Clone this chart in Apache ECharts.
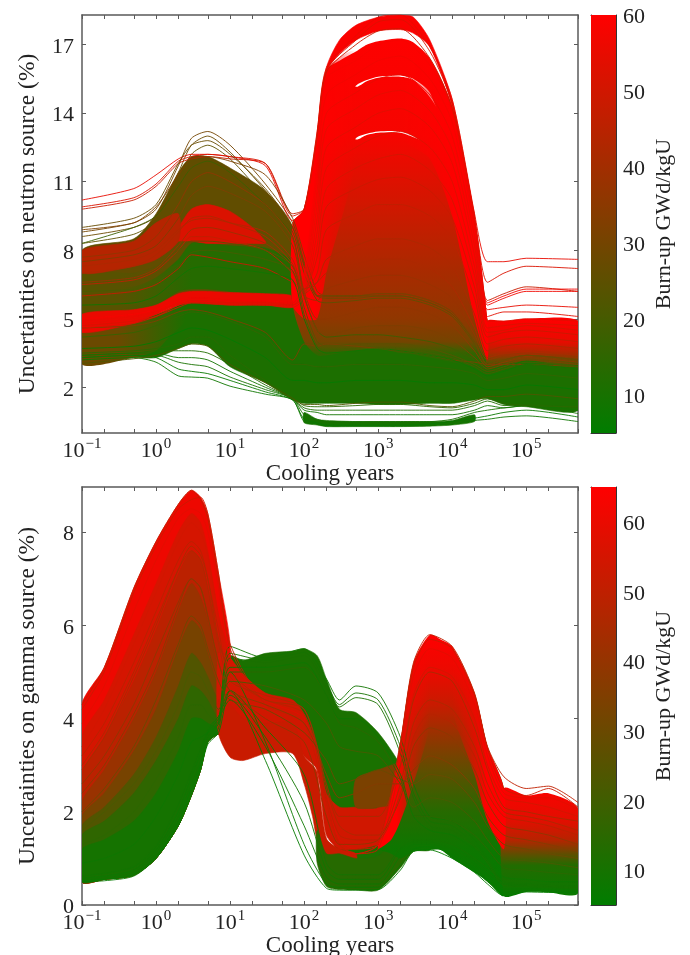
<!DOCTYPE html>
<html><head><meta charset="utf-8">
<style>html,body{margin:0;padding:0;background:#fff}#c{width:690px;height:955px}</style>
<script src="https://cdn.jsdelivr.net/npm/echarts@6/dist/echarts.min.js"></script>
</head><body><div id="c"></div>
<script>
// ---------- axis texts ----------
const xLabelValues=[0.1,1,10,100,1000,10000,100000];
const xTickValues=[0.1,0.2,0.5,1,2,5,10,20,50,100,200,500,1000,2000,5000,10000,20000,50000,100000,200000,500000];
const neutronTicks=[2,5,8,11,14,17];
const gammaTicks=[0,2,4,6,8];
const neutronBarTicks=[10,20,30,40,50,60];
const gammaBarTicks=[10,20,30,40,50,60];
const xName='Cooling years', barName='Burn-up GWd/kgU';
const neutronName='Uncertainties on neutron source (%)', gammaName='Uncertainties on gamma source (%)';

// ---------- neutron panel: cooling-time grids ----------
const XN=[0.1,0.5,1,2,3,5,10,30,70,100,150,200,500,1000,2000,5000,1e4,2e4,3e4,5e4,1e5,5e5];
const XU=[0.1,0.5,1,2,3,5,10,30,70];
const XH=[70,100,150,200,300,500,700,1000,2000,3000,5000,1e4,2e4,3e4];
const XT=[3e4,5e4,1e5,5e5];

// neutron dense regions: [low edge],[high edge]
const nOliveLo=[5.2,5.3,5.5,5.9,6.1,6.1,6.0,5.9,5.8], nOliveHi=[8.0,8.5,9.6,11.4,12.1,12.1,11.6,10.6,9.0];
const nMidLo=[5.3,5.4,5.6,6.2,6.3,6.3,6.2,6.1,6.0], nMidHi=[6.3,6.4,6.8,7.6,8.3,8.3,8.2,8.1,7.5];
const nMid0Lo=[5.2,5.3,5.5,5.9,6.1], nMid0Hi=[7,7,7.1,7.4,7.6];
const XC=[1.5,2,3,5,10,20,30];
const nCoreLo=[8.3,8.4,8.4,8.3,8.3,8.3,8.3], nCoreHi=[8.5,9,9.8,10,9.7,9,8.4];
const XB=[0.1,0.5,1,2];
const nBrickLo=[7.0,7.3,7.6,8.4], nBrickHi=[8.0,8.4,9.2,9.6];
const nGreenLo=[3.1,3.3,3.3,3.7,3.9,3.8,2.9,2.2,1.45,1.3,1.3,1.3,1.3,1.25,1.25,1.3,1.3,1.45,1.5,1.25,1.15,1.0];
const nGreenHi=[5,5,5.2,5.6,5.8,5.8,5.8,5.8,5.7,4.2,3.8,3.8,3.8,3.9,3.8,3.6,3.4,3.2,3.1,3.2,3.6,3.3];
const XL=[0.1,0.5,1,1.5,2.5];
const nBrownLo=[3.0,3.3,3.6,4.2,4.9], nBrownHi=[5.2,5.2,5.2,5.3,5.4];
const nBeltLo=[4.4,4.8,5.2,5.6,5.7,5.65,5.6,5.6,5.5], nBeltHi=[5.2,5.4,5.6,6.1,6.2,6.2,6.15,6.1,6.0];
const nHumpLo=[5.6,6,8,11,14.2,15.2,15.45,15.6,15.65,15.5,14.9,12,7,4];
const nHumpHi=[9.2,9.8,13,15.9,16.3,16.7,17,17.15,17.27,17.1,16.4,14.3,9.5,4.9];
const nHump2Lo=[5.6,5,6,9,11.5,12.9,13.1,13.2,13.2,13,12.4,10,6,3.8];
const nHump2Hi=[9,9.6,12.8,15.7,15.9,15.16,15.4,15.55,15.6,15.45,14.7,13,8,4.9];
const nHump3Lo=[5.6,4.0,3.4,3.4,3.5,3.6,3.65,3.7,3.5,3.45,3.3,3.1,2.9,2.8];
const nHump3Hi=[8,8,10,12.5,13.4,12.85,13.05,13.15,13.15,12.95,12.6,11,7,4.9];
const XTop=[150,200,300,500,1000,2000,3000,5000,1e4,2e4];
const nTopLo=[12.9,15.8,16.6,17.2,17.6,17.66,17.5,16.9,14.3,9.4], nTopHi=[13.2,16.0,17.2,17.85,18.2,18.3,18.2,17.2,14.6,9.6];
const XS=[70,100,150,200,500];
const nSpikeLo=[5.6,5,5,7,12], nSpikeHi=[9.2,9.8,13.0,15.9,16.7];
const XE=[2000,5000,1e4,2e4,3e4];
const nEdgeLo=[13,12,9.5,5,3.2], nEdgeHi=[17.27,16.4,14.3,9.5,4.9];
const nTailLo=[2.8,3.0,3.2,3.0], nTailHi=[4.9,4.9,5.0,4.9];
const XLow=[100,150,200,500,1000,2000,5000,1e4,2e4];
const nLowLo=[0.45,0.35,0.28,0.28,0.28,0.28,0.3,0.35,0.5], nLowHi=[0.9,0.6,0.55,0.5,0.5,0.5,0.5,0.55,0.8];

// neutron individual curves on XN
const nb1=[8.8,9.2,9.8,11.7,12.9,13.2,12.6,10.9,9.2,7.5,6,6,6,6.1,6.1,5.8,5.3,4,3,3.2,3.4,3.2];
const nb2=[8.6,9,9.5,11.4,12.6,13,12.3,10.6,9,7.3,6,5.9,5.9,6,6,5.7,5.2,4,3,3.2,3.4,3.2];
const nb3=[8.3,8.7,9.3,11,12.2,12.6,12,10.3,8.8,7,5.8,5.7,5.8,5.9,5.9,5.6,5.1,3.9,2.9,3.1,3.3,3.1];
const nb4=[9.8,10.2,10.8,11.8,12,12.1,12,11.8,9.6,9.8,13,15.8,17,17.6,17.7,16.4,14.2,9.3,5.8,6.1,6.4,6.2];
const nb5=[10.2,10.7,11.3,12,12.2,12.2,12.1,11.7,9.3,9.8,13.2,16,17.4,18.2,18.3,16.9,14.6,9.6,7.5,7.5,7.65,7.6];
const nb6=[9.9,10.3,10.9,11.9,12.1,12.2,12.1,11.8,9.5,9.8,13.1,15.9,17.2,18,18.1,16.7,14.4,9.5,6.6,7,7.3,7.2];
const nb7=[8.9,9.2,9.9,11.3,12,12.1,11.9,11.3,9.4,7.8,6.2,6,6,6.1,6.1,5.8,5.3,4,3,3.2,3.4,3.2];
const nb8=[8.3,9,9.5,10.8,11.6,11.9,11.4,10,8.6,6,4.5,4.2,4.3,4.3,4.2,4,3.7,3.2,2.7,2.8,3,2.8];
const nb9=[9,9.4,10,11.8,12.6,12.8,12.2,10.7,9,7.4,6,6,6,6,6,5.7,5.2,4,3,3.2,3.4,3.2];
const nf1=[3.2,3.3,3.1,2.5,2.45,2.4,2.05,1.7,1.45,0.5,0.4,0.3,0.3,0.3,0.3,0.35,0.4,0.55,0.6,0.7,0.75,0.5];
const nf2=[3.3,3.4,3.3,2.8,2.7,2.6,2.3,1.8,1.45,0.6,0.45,0.35,0.35,0.35,0.35,0.4,0.5,0.65,0.75,0.9,1,0.7];
const nf3=[3.3,3.4,3.4,3.1,3,2.9,2.45,1.9,1.5,0.8,0.6,0.5,0.5,0.5,0.5,0.5,0.6,0.9,1,1.1,1.2,0.85];
const nf4=[3.4,3.5,3.5,3.3,3.3,3.2,2.7,2,1.5,1,0.9,0.8,0.8,0.8,0.8,0.8,0.8,1,1.2,1.1,1.2,1];
const nf5=[3.4,3.5,3.6,3.6,3.6,3.5,3,2.1,1.5,1.1,1,1,1,1,1,1,1,1.2,1.4,1.2,1.25,1.1];
const nf6=[3.5,3.6,3.7,3.9,4.2,4.2,3.4,2.3,1.55,1.2,1.15,1.15,1.2,1.25,1.25,1.15,1.1,1.3,1.5,1.3,1.2,1.15];
const nf7=[3.05,3.25,3.4,3.7,3.9,3.8,3,2.2,1.5,1.25,1.25,1.2,1.3,1.35,1.35,1.2,1.15,1.4,1.6,1.6,1.7,1.5];
const nf8=[4.6,4.7,4.9,5.3,5.4,5.3,5,4.4,3.2,3.9,3.8,3.9,3.8,3.7,3.6,3.4,3.2,3.1,3,3,3,2.9];
const nh1=[5,5.2,5.4,5.8,5.9,5.9,5.8,5.8,5.7,7,11.8,15.5,16.3,17,17.2,16.1,14.1,9.3,5.7,6,6.3,6.3];
const nh2=[5,5.1,5.3,5.8,5.9,5.9,5.8,5.8,5.7,6.8,11.2,14.8,15.7,16.3,16.5,15.5,13.6,9,5.6,5.9,6.2,6.2];
const nh3=[4.9,5.1,5.3,5.7,5.9,5.9,5.8,5.7,5.7,6.6,10.6,14,14.9,15.5,15.7,14.8,13,8.6,5.4,5.5,5.6,5.5];
const nh4=[4.8,5,5.2,5.6,5.8,5.8,5.7,5.7,5.6,6.4,10,13.3,14.2,14.8,15,14.1,12.4,8.2,5.1,5.3,5.3,5.1];
const nh5=[4.7,4.9,5.2,5.6,5.8,5.8,5.7,5.7,5.6,6.2,9.4,12.5,13.4,14,14.2,13.4,11.8,7.8,4.9,4.9,5,4.9];
const nh6=[4.7,4.9,5.1,5.6,5.7,5.7,5.7,5.6,5.6,6,8.8,11.6,12.5,13,13.2,12.5,11,7.3,4.6,4.7,4.8,4.7];
const nh7=[4.6,4.8,5.1,5.5,5.7,5.7,5.6,5.6,5.5,5.9,8.2,10.7,11.6,12,12.2,11.5,10.2,6.9,4.4,4.5,4.7,4.5];
const nh8=[6,6.2,6.5,7.2,7.8,7.7,7.5,7.2,6.6,6.3,7.7,9.9,10.7,11.1,11.2,10.6,9.4,6.4,4.2,4.4,4.5,4.3];
const nh9=[6.5,6.7,7.1,8,8.6,8.6,8.4,8,7,6.2,7,8.9,9.6,10,10,9.5,8.5,5.9,3.9,4.1,4.2,4];
const nh10=[7,7.3,7.8,8.8,9.4,9.5,9.2,8.6,7.4,6.1,6.6,7.6,8.2,8.5,8.5,8.1,7.3,5.2,3.6,3.8,3.9,3.7];
const ne1=[5.6,5.7,6,6.8,7.2,7.3,7.2,7,6.7,5,3.7,3.5,3.6,3.7,3.6,3.4,3.2,2.8,2.5,2.7,3,2.8];
const ne2=[6.2,6.3,6.6,7.3,7.9,8,7.9,7.6,7.1,5.2,3.8,3.6,3.7,3.7,3.7,3.5,3.3,2.9,2.6,2.8,3.1,2.9];
const ne3=[6.8,7,7.3,8,8.4,8.4,8.3,8,7.3,5.5,4,3.8,3.9,3.9,3.9,3.7,3.4,3,2.7,2.9,3.2,3];
const ne4=[7.5,7.8,8.2,9.4,10.4,10.8,10.5,9.7,8.2,6,4.5,4.3,4.6,4.7,4.7,4.5,4.1,3.3,2.8,3,3.2,3];
const ne5=[7.7,8,8.6,10,11,11.4,11,10,8.5,6.2,5,5,5.3,5.5,5.5,5.2,4.7,3.6,2.9,3.1,3.3,3.1];
const ne6=[4.2,4.4,4.7,5.1,5.3,5.2,4.9,4.2,3,3,2.9,2.9,3,3,3,2.9,2.8,2.6,2.3,2.4,2.6,2.4];
const ne7=[3.7,3.8,4,4.4,4.6,4.5,4.1,3.3,2.3,2.3,2.2,2.2,2.3,2.3,2.3,2.2,2.2,2.1,1.9,1.9,2.1,1.9];
const ne8=[7.3,7.6,8,8.9,9.3,9.4,9.2,8.8,7.6,6.3,6.6,7,7.4,7.6,7.6,7.2,6.4,4.6,3.3,3.5,3.6,3.4];
const ne9=[6.6,6.8,7.2,8.2,8.9,9,8.8,8.3,7.3,6,5.8,6.3,6.7,6.9,6.9,6.5,5.9,4.3,3.2,3.4,3.5,3.3];
const neutronBack=[[30,nb1],[28,nb2],[25,nb3],[48,nb4],[55,nb5],[52,nb6],[32,nb7],[18,nb8],[27,nb9]];
const neutronFront=[[8,nf1],[7,nf2],[10,nf3],[9,nf4],[12,nf5],[14,nf6],[22,nf7],[32,nf8],[58,nh1],[57,nh2],[55,nh3],[54,nh4],[53,nh5],[52,nh6],[50,nh7],[48,nh8],[46,nh9],[42,nh10],
  [8,ne1],[20,ne2],[24,ne3],[32,ne4],[36,ne5],[16,ne6],[6,ne7],[42,ne8],[38,ne9]];

// ---------- gamma panel ----------
const XG=[0.1,0.2,0.5,1,2,3,4,5,7,10];
const gLevel63=[4.3,5.1,6.8,7.8,8.6,8.9,8.75,8.4,7.1,5.6];
const gLevel56=[3.6,4.4,5.8,6.9,8.0,8.4,8.2,7.6,6.2,5.3];
const gLevel50=[2.8,3.6,4.8,5.9,7.1,7.6,7.4,6.8,5.6,5.1];
const gLevel42=[2.2,2.9,4.0,5.0,6.3,6.9,6.6,6.1,5.1,4.8];
const gLevel34=[1.9,2.4,3.3,4.2,5.5,6.1,5.9,5.4,4.7,4.5];
const gLevel26=[1.7,2.1,2.8,3.6,4.7,5.4,5.2,4.9,4.4,4.3];
const gLevel18=[1.5,1.8,2.4,3.1,4.0,4.7,4.6,4.4,4.0,3.9];
const gLevel12=[1.2,1.4,1.8,2.4,3.3,4,4.0,3.9,3.8,3.7];
const gBottom=[0.5,0.55,0.64,1.0,1.7,2.35,2.9,3.5,3.67,3.67];
const XP=[7,10,15,30,70,100,150,200,300,500,1000,2000,3000];
const gPlatLo=[3.67,3.6,3.6,3.6,3.6,3.4,3.0,2,1.0,0.9,0.9,1,1.2], gPlatHi=[5,5.35,5.25,5.4,5.45,5.5,5.35,4.85,4.2,4.13,3.7,3.0,2.3];
const XR=[7,10,15,30,70,100,150,200,300,500,1000,2000];
const gRedALo=[3.7,3.6,3.5,3.5,3.6,3.2,2.9,1.5,1.2,1.2,1.3,1.6], gRedAHi=[5.4,5.3,4.95,4.55,4.4,4.1,3.4,2.4,2.1,2.1,2.1,3];
const XR2=[7,10,15,30,70,100,130,150,200,300,500];
const gRedBLo=[3.67,3.17,3.1,3.25,3.25,2.6,1.9,1.4,1,0.85,0.8], gRedBHi=[4.4,4.3,4.0,3.9,3.9,3.2,3,2.85,1.43,1.2,1.1];
const XF=[500,1000,2000,3000];
const gBrownLo=[2.1,2.1,2.2,2.5], gBrownHi=[2.7,2.9,3.1,3.5];
const XK=[1000,1500,2000,3000,5000,7000,1e4,2e4,3e4,5e4];
const gHumpLo=[1.2,1.1,1.0,1.15,1.18,1.18,1,0.7,0.5,0.2], gHumpHi=[1.3,2.3,3.5,5.2,5.8,5.7,5.55,4.56,3.4,2.5];
const XQ=[5e4,1e5,2e5,5e5];
const gTailLo=[0.2,0.28,0.27,0.25], gTailHi=[2.5,2.35,2.4,2.07];
const XV=[150,200,300,500,1000,2000,3000,5000];
const gLowLo=[0.9,0.4,0.33,0.32,0.32,0.8,1.15,1.18], gLowHi=[1.6,1.1,1.1,1.0,1.05,1.5,1.5,1.5];
const XGE=[1000,1500,2000,3000,5000];
const gEdgeLo=[1.2,1.4,1.8,2.6,3.9], gEdgeHi=[1.3,2.3,3.5,5.2,5.8];
const XGR=[1e4,2e4,3e4,5e4];
const gEdgeRLo=[4.2,2.8,1.8,1.2], gEdgeRHi=[5.55,4.56,3.4,2.5];

const XZ=[0.1,0.2,0.5,1,2,3,4,5,7,10,30,100,200,300,500,1000,2000,3000,5000,1e4,2e4,3e4,5e4,1e5,2e5,5e5];
const gg1=[.5,.52,.62,1,1.7,2.35,2.9,3.45,3.7,4.6,3.1,1.07,.36,.32,.32,.33,.75,1.15,1.18,1,.7,.45,.2,.28,.27,.27];
const gg2=[.52,.55,.66,1.05,1.8,2.5,3,3.5,3.8,5,3.5,1.3,.45,.38,.38,.38,.85,1.2,1.25,1.08,.78,.5,.28,.3,.3,.3];
const gg3=[.55,.58,.7,1.12,1.9,2.6,3.1,3.6,3.9,5.55,5.3,5.5,4.85,4.4,4.7,4.55,3.6,2.6,1.9,1.8,1.4,1,.5,.45,.42,.4];
const gg4=[.56,.6,.72,1.15,2,2.7,3.2,3.65,3.95,5.4,5.25,5.42,4.75,4.3,4.55,4.4,3.4,2.4,1.8,1.7,1.3,.95,.45,.42,.4,.38];
const gg5=[.6,.65,.78,1.2,2.1,2.8,3.3,3.7,4,5.3,5.2,5.35,4.65,4.25,4.45,4.3,3.25,2.3,1.7,1.6,1.25,.9,.42,.4,.38,.36];
const gg6=[.58,.62,.75,1.18,2,2.75,3.25,3.7,4,4.4,3.4,1.7,.6,.45,.45,.45,1.05,1.3,1.3,1.15,.85,.6,.35,.34,.33,.32];
const gg7=[.62,.68,.82,1.25,2.15,2.85,3.35,3.75,4.05,4.5,3.6,2.2,.75,.55,.55,.55,1.2,1.35,1.35,1.2,.95,.7,.45,.4,.38,.35];
const gg8=[.65,.7,.85,1.3,2.2,2.9,3.4,3.8,4.05,4.6,3.8,2.8,.9,.65,.65,.65,1.25,1.4,1.4,1.3,1,.8,.5,.45,.42,.4];
const gh1=[4.3,5.1,6.8,7.8,8.6,8.9,8.7,8.3,7,5.6,4.3,3.9,2.2,1.3,1.1,1.3,3.5,5.2,5.8,5.55,4.55,3.4,2.75,2.5,2.55,2.2];
const gh2=[4.2,5,6.7,7.7,8.5,8.7,8.75,8.4,7.1,5.5,4.3,3.9,2.2,1.3,1.1,1.3,3.45,5.1,5.7,5.5,4.5,3.35,2.5,2.35,2.5,2.1];
const gh3=[3.9,4.7,6.3,7.4,8.3,8.5,8.4,8,6.8,5.3,4.4,4,2.3,1.4,1.2,1.3,3.3,4.9,5.5,5.3,4.3,3.2,2.4,2.3,2.3,2.05];
const gh4=[3.4,4.2,5.6,6.7,7.8,8.2,8,7.5,6.2,5,4.2,3.8,2,1.2,1.1,1.2,3,4.5,5.1,4.9,4,3,2.3,2.2,2.1,1.9];
const gh5=[3,3.7,5,6.1,7.2,7.6,7.4,6.8,5.6,4.8,4.5,4.2,2.5,1.7,1.5,1.5,2.6,3.9,4.4,4.2,3.4,2.6,2,1.9,1.8,1.6];
const gh6=[2.6,3.2,4.3,5.4,6.5,7,6.8,6.2,5.2,4.6,4,3.5,1.9,1.3,1.3,1.4,2.3,3.4,3.8,3.6,2.9,2.2,1.7,1.6,1.5,1.3];
const ge1=[3.2,3.9,5.2,6.3,7.4,7.8,7.6,7,5.9,4.9,4.4,4.1,2.3,1.5,1.4,1.4,2.4,3.6,4.1,3.9,3.2,2.4,1.9,1.8,1.7,1.5];
const ge2=[2.4,3,4.1,5.1,6.4,7,6.8,6.2,5.2,4.6,4.3,3.9,2.8,2.3,2.4,2.6,2.6,2.9,3.2,3,2.5,1.9,1.5,1.4,1.3,1.15];
const ge3=[2,2.5,3.4,4.4,5.6,6.2,6,5.5,4.8,4.4,4.2,3.7,3.1,2.6,2.7,2.9,2.7,2.6,2.8,2.7,2.2,1.7,1.3,1.2,1.1,1];
const ge4=[2.9,3.6,4.9,6,7.2,7.7,7.5,7,5.7,5,4.4,4.2,2.6,1.9,1.9,1.9,3,4.4,5,4.8,3.8,2.9,2.1,2,1.9,1.8];
const ge5=[1.6,2,2.6,3.3,4.3,5,4.9,4.6,4.2,4.8,4.7,4.4,3.9,3.4,3.3,3.2,2.6,2.1,2.3,2.2,1.8,1.4,1,.95,.9,.8];
const ge6=[1.3,1.5,2,2.7,3.6,4.3,4.3,4.1,3.9,5,5,5.1,4.5,3.9,3.8,3.5,2.7,1.9,1.9,1.8,1.5,1.2,.8,.75,.7,.65];
const ge7=[.9,1,1.3,1.9,2.8,3.5,3.6,3.7,3.9,5.1,5.1,5.2,4.5,4,4,3.6,2.8,1.9,1.6,1.5,1.2,1,.6,.55,.5,.5];
const gammaBack=[[9,gg3],[10,gg4],[11,gg5]];
const gammaFront=[[6,gg1],[7,gg2],[8,gg6],[9,gg7],[10,gg8],[50,gh1],[52,gh2],[58,gh3],[54,gh4],[45,gh5],[38,gh6],
  [48,ge1],[36,ge2],[30,ge3],[44,ge4],[22,ge5],[15,ge6],[8,ge7]];

// ---------- drawing ----------
const green=[0,125,0], red=[255,0,0];
function rgbOf(b,max){const t=Math.max(0,Math.min(1,(b-5)/(max-5)));
  return [0,1,2].map(i=>Math.round(green[i]+(red[i]-green[i])*t));}
function ramp(b,max,a){const c=rgbOf(b,max);return 'rgba('+c.join(',')+','+(a===undefined?1:a)+')';}

function band(ax,x,lo,hi,paint,max){
  return {type:'custom',xAxisIndex:ax,yAxisIndex:ax,coordinateSystem:'cartesian2d',silent:true,clip:true,
    data:[[x[0],lo[0]]],
    renderItem:function(p,api){
      const pts=[];
      x.forEach((v,i)=>pts.push(api.coord([v,hi[i]])));
      for(let i=x.length-1;i>=0;i--)pts.push(api.coord([x[i],lo[i]]));
      let fill, stroke='none';
      if(Array.isArray(paint)){
        const y0=api.coord([x[0],paint[0][0]])[1], y1=api.coord([x[0],paint[paint.length-1][0]])[1];
        const st=paint.map(s=>({offset:(api.coord([x[0],s[0]])[1]-y0)/(y1-y0),color:ramp(s[1],max)}));
        fill=new echarts.graphic.LinearGradient(0,y0,0,y1,st,true);
      } else if(typeof paint==='object'){
        const a=api.coord([x[0],lo[0]])[0], b=api.coord([x[x.length-1],lo[0]])[0];
        const st=paint.fade==='right'
          ?[{offset:0,color:ramp(paint.b,max,1)},{offset:0.35,color:ramp(paint.b,max,1)},{offset:1,color:ramp(paint.b,max,0)}]
          :[{offset:0,color:ramp(paint.b,max,0)},{offset:0.65,color:ramp(paint.b,max,1)},{offset:1,color:ramp(paint.b,max,1)}];
        fill=new echarts.graphic.LinearGradient(a,0,b,0,st,true);
      } else {fill=ramp(paint,max);stroke=fill;}
      return {type:'polygon',shape:{points:pts,smooth:0.25},style:{fill:fill,stroke:stroke,lineWidth:0.6}};
    }};
}
function curves(ax,x,list,max,w){
  return list.map(c=>({type:'line',xAxisIndex:ax,yAxisIndex:ax,showSymbol:false,silent:true,smooth:0.25,
    data:x.map((v,i)=>[v,c[1][i]]),lineStyle:{color:ramp(c[0],max),width:w}}));
}
function colorbar(ax,maxv){
  return {type:'custom',xAxisIndex:ax,yAxisIndex:ax,coordinateSystem:'cartesian2d',silent:true,data:[[0,5]],
    renderItem:function(p,api){
      const a=api.coord([0,maxv]), b=api.coord([1,5]);
      return {type:'rect',shape:{x:a[0],y:a[1],width:b[0]-a[0],height:b[1]-a[1]},
        style:{fill:new echarts.graphic.LinearGradient(0,0,0,1,[{offset:0,color:ramp(maxv,maxv)},{offset:1,color:ramp(5,maxv)}])}};
    }};
}
const FONT='"Liberation Serif","DejaVu Serif",serif', INK='#222', EDGE='#5a5a5a';
const LOG=v=>{const e=Math.round(Math.log10(v));return '{b|10}{s|'+(e<0?'\u2212':'')+Math.abs(e)+'}';};
const NUM=v=>'{n|'+v+'}';
const numRich={n:{fontFamily:FONT,fontSize:22,color:INK,padding:[5,0,0,0]}};
function xAxes(grid,top,margin,gap){
  return {type:'log',logBase:10,gridIndex:grid,min:0.1,max:500000,position:top?'top':'bottom',
    name:top?'':xName,nameLocation:'middle',nameGap:gap,nameTextStyle:{fontFamily:FONT,fontSize:23,color:INK},
    axisLine:{show:true,onZero:false,lineStyle:{color:EDGE,width:1.5}},
    axisTick:{show:true,inside:true,length:4,customValues:xTickValues,lineStyle:{color:EDGE,width:1}},
    minorTick:{show:false},splitLine:{show:false},minorSplitLine:{show:false},
    axisLabel:top?{show:false}:{show:true,customValues:xLabelValues,margin:margin,formatter:LOG,hideOverlap:false,showMinLabel:true,showMaxLabel:true,
      rich:{b:{fontFamily:FONT,fontSize:22,color:INK,padding:[6,0,0,0]},s:{fontFamily:FONT,fontSize:15,color:INK,padding:[0,0,8,1]}}}};
}
function yAxes(grid,top,ticks,right,name){
  return {type:'value',gridIndex:grid,min:0,max:top,position:right?'right':'left',
    name:right?'':name,nameLocation:'middle',nameGap:42,nameTextStyle:{fontFamily:FONT,fontSize:23.5,color:INK},
    axisLine:{show:true,onZero:false,lineStyle:{color:EDGE,width:1.5}},
    axisTick:{show:true,inside:true,length:4,customValues:ticks,lineStyle:{color:EDGE,width:1}},
    splitLine:{show:false},
    axisLabel:right?{show:false}:{show:true,customValues:ticks,margin:8,formatter:NUM,rich:numRich,showMinLabel:true,showMaxLabel:true}};
}
function barX(grid){return {type:'value',gridIndex:grid,min:0,max:1,axisLine:{show:true,onZero:false,lineStyle:{color:'#333',width:1}},axisTick:{show:false},axisLabel:{show:false},splitLine:{show:false}};}
function barXT(grid){return Object.assign(barX(grid),{position:'top'});}
function barY(grid,maxv,ticks){return {type:'value',gridIndex:grid,min:5,max:maxv,position:'right',name:barName,nameLocation:'middle',nameGap:37,nameRotate:90,
    nameTextStyle:{fontFamily:FONT,fontSize:22,color:INK},
    axisLine:{show:true,onZero:false,lineStyle:{color:'#333',width:1}},
    axisTick:{show:true,inside:true,length:5,customValues:ticks,lineStyle:{color:'#222',width:1}},splitLine:{show:false},
    axisLabel:{show:true,customValues:ticks,margin:7,formatter:NUM,rich:numRich,showMinLabel:true,showMaxLabel:true}};}
function barYL(grid,maxv,ticks){return {type:'value',gridIndex:grid,min:5,max:maxv,position:'left',
    axisLine:{show:true,onZero:false,lineStyle:{color:'#333',width:1}},
    axisTick:{show:true,inside:true,length:5,customValues:ticks,lineStyle:{color:'#222',width:1}},splitLine:{show:false},axisLabel:{show:false}};}

const nStops=[[18.3,60],[13,58],[10,50],[7,41],[5,36],[4,30],[3.5,16],[2.8,12]];
const nTailStops=[[5,60],[4,55],[3.5,42],[3.1,25],[2.8,12]];
const gHumpStops=[[5.8,65],[5,60],[4.3,52],[3.5,38],[2.8,26],[2,14],[1.2,8],[0.2,6]];
const gTailStops=[[2.6,65],[1.8,58],[1.4,48],[1.1,28],[0.85,13],[0.2,7]];

const series=[]
 .concat(curves(0,XN,neutronBack,60,0.9))
 .concat([
  band(0,XU,nOliveLo,nOliveHi,26,60),
  band(0,XU,nMidLo,nMidHi,13,60),
  band(0,XU.slice(0,5),nMid0Lo,nMid0Hi,{b:24,fade:'right'},60),
  band(0,XC,nCoreLo,nCoreHi,52,60),
  band(0,XB,nBrickLo,nBrickHi,44,60),
  band(0,XN,nGreenLo,nGreenHi,11,60),
  band(0,XL,nBrownLo,nBrownHi,{b:28,fade:'right'},60),
  band(0,XU,nBeltLo,nBeltHi,56,60),
  band(0,XH,nHump3Lo,nHump3Hi,nStops,60),
  band(0,XH,nHump2Lo,nHump2Hi,nStops,60),
  band(0,XH,nHumpLo,nHumpHi,nStops,60),
  band(0,XT,nTailLo,nTailHi,nTailStops,60),
  band(0,XTop,nTopLo,nTopHi,59,60),
  band(0,XS,nSpikeLo,nSpikeHi,{b:60,fade:'right'},60),
  band(0,XE,nEdgeLo,nEdgeHi,{b:60,fade:'left'},60),
  band(0,XLow,nLowLo,nLowHi,10,60)
 ])
 .concat(curves(0,XN,neutronFront,60,0.9))
 .concat([colorbar(1,60)])
 .concat(curves(2,XZ,gammaBack,65,0.9))
 .concat([
  band(2,XP,gPlatLo,gPlatHi,11,65),
  band(2,XG,gBottom,gLevel63,61,65),
  band(2,XG,gBottom,gLevel56,55,65),
  band(2,XG,gBottom,gLevel50,49,65),
  band(2,XG,gBottom,gLevel42,41,65),
  band(2,XG,gBottom,gLevel34,33,65),
  band(2,XG,gBottom,gLevel26,24,65),
  band(2,XG,gBottom,gLevel18,16,65),
  band(2,XG,gBottom,gLevel12,10,65),
  band(2,XR,gRedALo,gRedAHi,54,65),
  band(2,XR2,gRedBLo,gRedBHi,52,65),
  band(2,XF,gBrownLo,gBrownHi,34,65),
  band(2,XV,gLowLo,gLowHi,14,65),
  band(2,XK,gHumpLo,gHumpHi,gHumpStops,65),
  band(2,XQ,gTailLo,gTailHi,gTailStops,65),
  band(2,XGE,gEdgeLo,gEdgeHi,{b:65,fade:'right'},65),
  band(2,XGR,gEdgeRLo,gEdgeRHi,{b:65,fade:'left'},65)
 ])
 .concat(curves(2,XZ,gammaFront,65,0.9))
 .concat([colorbar(3,65)]);

const chart=echarts.init(document.getElementById('c'),null,{renderer:'canvas'});
chart.setOption({
  animation:false,backgroundColor:'#fff',
  grid:[
    {left:82,top:15,width:496,height:418,outerBoundsMode:'none'},
    {left:591,top:15,width:25,height:418,outerBoundsMode:'none'},
    {left:82,top:487,width:496,height:418,outerBoundsMode:'none'},
    {left:591,top:487,width:25,height:418,outerBoundsMode:'none'}
  ],
  xAxis:[xAxes(0,false,1,18),barX(1),xAxes(2,false,1,18),barX(3),xAxes(0,true,1,18),barXT(1),xAxes(2,true,1,18),barXT(3)],
  yAxis:[yAxes(0,18.3,neutronTicks,false,neutronName),barY(1,60,neutronBarTicks),yAxes(2,8.97,gammaTicks,false,gammaName),barY(3,65,gammaBarTicks),
         yAxes(0,18.3,neutronTicks,true,''),barYL(1,60,neutronBarTicks),yAxes(2,8.97,gammaTicks,true,''),barYL(3,65,gammaBarTicks)],
  series:series
});
</script></body></html>
